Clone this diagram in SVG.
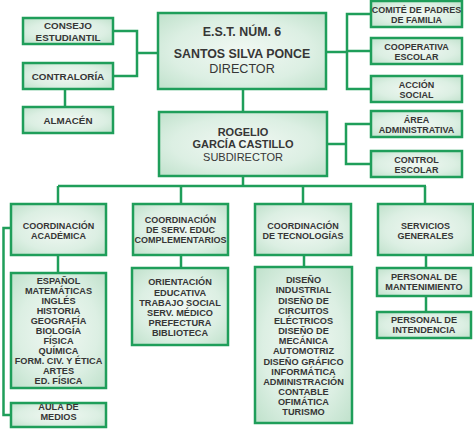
<svg xmlns="http://www.w3.org/2000/svg" width="474" height="429" viewBox="0 0 474 429">
<defs>
<radialGradient id="g" cx="0.5" cy="0.5" r="0.7">
<stop offset="0" stop-color="#f1f8f3"/>
<stop offset="0.6" stop-color="#dcefe3"/>
<stop offset="1" stop-color="#bfe1cb"/>
</radialGradient>
<style>
.b{fill:url(#g);stroke:#1f9e5a;stroke-width:2.5}
.c{fill:none;stroke:#1f9e5a;stroke-width:2.5}
text{font-family:"Liberation Sans",Arial,sans-serif;fill:#363636;text-anchor:middle;font-weight:bold}
.s{font-size:9.8px}
.r{font-size:9px}
.l{font-size:9.2px}
.d{font-size:12.4px}
.dn{font-size:12.6px;font-weight:normal}
.u{font-size:11px}
.un{font-size:11px;font-weight:normal}
</style>
</defs>
<rect width="474" height="429" fill="#ffffff"/>
<g id="connectors">
<polyline class="c" points="113,31 137,31 137,76 113,76"/>
<line class="c" x1="137" y1="53" x2="158" y2="53"/>
<line class="c" x1="65" y1="89" x2="65" y2="107"/>
<line class="c" x1="326" y1="52" x2="347" y2="52"/>
<polyline class="c" points="371,14 347,14 347,89 371,89"/>
<line class="c" x1="347" y1="51" x2="371" y2="51"/>
<line class="c" x1="327" y1="144" x2="346" y2="144"/>
<polyline class="c" points="371,124 346,124 346,164 371,164"/>
<line class="c" x1="243" y1="89" x2="243" y2="112"/>
<line class="c" x1="243" y1="176" x2="243" y2="186"/>
<line class="c" x1="58" y1="186" x2="426" y2="186"/>
<line class="c" x1="58" y1="186" x2="58" y2="204"/>
<line class="c" x1="181" y1="186" x2="181" y2="204"/>
<line class="c" x1="303" y1="186" x2="303" y2="204"/>
<line class="c" x1="425" y1="186" x2="425" y2="204"/>
<line class="c" x1="58" y1="255" x2="58" y2="273"/>
<line class="c" x1="181" y1="255" x2="181" y2="268"/>
<line class="c" x1="304" y1="255" x2="304" y2="267"/>
<line class="c" x1="426" y1="255" x2="426" y2="268"/>
<line class="c" x1="426" y1="296" x2="426" y2="312"/>
<polyline class="c" points="11,228 3.5,228 3.5,415 11,415"/>
</g>
<g id="consejo"><rect class="b" x="23" y="18" width="90" height="26"/><text class="s" x="68" y="28.5">CONSEJO</text><text class="s" x="68" y="40.5">ESTUDIANTIL</text></g>
<g id="contraloria"><rect class="b" x="23" y="63" width="90" height="26"/><text class="s" x="68" y="80">CONTRALORÍA</text></g>
<g id="almacen"><rect class="b" x="23" y="107" width="90" height="26"/><text class="s" x="68" y="123.5">ALMACÉN</text></g>
<g id="director"><rect class="b" x="158" y="13" width="168" height="76"/><text class="d" x="242" y="35.5">E.S.T. NÚM. 6</text><text class="d" x="242" y="57.5">SANTOS SILVA PONCE</text><text class="dn" x="242" y="72.5">DIRECTOR</text></g>
<g id="subdirector"><rect class="b" x="159" y="112" width="168" height="64"/><text class="u" x="243" y="136">ROGELIO</text><text class="u" x="243" y="148">GARCÍA CASTILLO</text><text class="un" x="243" y="161">SUBDIRECTOR</text></g>
<g id="comite"><rect class="b" x="371" y="1" width="91" height="26"/><text class="r" x="416.5" y="13.2">COMITÉ DE PADRES</text><text class="r" x="416.5" y="23.2">DE FAMILIA</text></g>
<g id="cooperativa"><rect class="b" x="371" y="38" width="91" height="26"/><text class="r" x="416.5" y="49.5">COOPERATIVA</text><text class="r" x="416.5" y="59.5">ESCOLAR</text></g>
<g id="accion"><rect class="b" x="371" y="76" width="91" height="26"/><text class="r" x="416.5" y="88">ACCIÓN</text><text class="r" x="416.5" y="98">SOCIAL</text></g>
<g id="area"><rect class="b" x="371" y="111" width="91" height="26"/><text class="r" x="416.5" y="122.5">ÁREA</text><text class="r" x="416.5" y="132.5">ADMINISTRATIVA</text></g>
<g id="control"><rect class="b" x="371" y="151" width="91" height="26"/><text class="r" x="416.5" y="162.5">CONTROL</text><text class="r" x="416.5" y="172.5">ESCOLAR</text></g>
<g id="coord-academica"><rect class="b" x="11" y="204" width="95" height="51"/><text class="r" x="58.5" y="229.3">COORDINACIÓN</text><text class="r" x="58.5" y="239.3">ACADÉMICA</text></g>
<g id="coord-serv"><rect class="b" x="133" y="204" width="95" height="51"/><text class="r" x="180.5" y="223.3">COORDINACIÓN</text><text class="r" x="180.5" y="233.3">DE SERV. EDUC</text><text class="r" x="180.5" y="243.3">COMPLEMENTARIOS</text></g>
<g id="coord-tec"><rect class="b" x="255" y="204" width="96" height="51"/><text class="r" x="303" y="229.3">COORDINACIÓN</text><text class="r" x="303" y="239.3">DE TECNOLOGÍAS</text></g>
<g id="servicios"><rect class="b" x="378" y="204" width="95" height="51"/><text class="r" x="425.5" y="229.3">SERVICIOS</text><text class="r" x="425.5" y="239.3">GENERALES</text></g>
<g id="materias"><rect class="b" x="11" y="273" width="95" height="115"/>
<text class="l" x="58.5" y="284.3">ESPAÑOL</text><text class="l" x="58.5" y="294.3">MATEMÁTICAS</text><text class="l" x="58.5" y="304.3">INGLÉS</text><text class="l" x="58.5" y="314.3">HISTORIA</text><text class="l" x="58.5" y="324.3">GEOGRAFÍA</text><text class="l" x="58.5" y="334.3">BIOLOGÍA</text><text class="l" x="58.5" y="344.3">FÍSICA</text><text class="l" x="58.5" y="354.3">QUÍMICA</text><text class="l" x="58.5" y="364.3">FORM. CIV. Y ÉTICA</text><text class="l" x="58.5" y="374.3">ARTES</text><text class="l" x="58.5" y="384.3">ED. FÍSICA</text></g>
<g id="aula"><rect class="b" x="11" y="403" width="95" height="24"/><text class="l" x="58.5" y="410">AULA DE</text><text class="l" x="58.5" y="419.5">MEDIOS</text></g>
<g id="orientacion"><rect class="b" x="132" y="268" width="96" height="77"/>
<text class="l" x="180" y="285.3">ORIENTACIÓN</text><text class="l" x="180" y="295.5">EDUCATIVA</text><text class="l" x="180" y="305.7">TRABAJO SOCIAL</text><text class="l" x="180" y="315.9">SERV. MÉDICO</text><text class="l" x="180" y="326.1">PREFECTURA</text><text class="l" x="180" y="336.3">BIBLIOTECA</text></g>
<g id="tecnologias"><rect class="b" x="255" y="267" width="97" height="156"/>
<text class="l" x="303.5" y="283.3">DISEÑO</text><text class="l" x="303.5" y="293.45">INDUSTRIAL</text><text class="l" x="303.5" y="303.6">DISEÑO DE</text><text class="l" x="303.5" y="313.75">CIRCUITOS</text><text class="l" x="303.5" y="323.9">ELÉCTRICOS</text><text class="l" x="303.5" y="334.05">DISEÑO DE</text><text class="l" x="303.5" y="344.2">MECÁNICA</text><text class="l" x="303.5" y="354.35">AUTOMOTRIZ</text><text class="l" x="303.5" y="364.5">DISEÑO GRÁFICO</text><text class="l" x="303.5" y="374.65">INFORMÁTICA</text><text class="l" x="303.5" y="384.8">ADMINISTRACIÓN</text><text class="l" x="303.5" y="394.95">CONTABLE</text><text class="l" x="303.5" y="405.1">OFIMÁTICA</text><text class="l" x="303.5" y="415.25">TURISMO</text></g>
<g id="mantenimiento"><rect class="b" x="377" y="268" width="94" height="28"/><text class="l" x="424" y="280.3">PERSONAL DE</text><text class="l" x="424" y="290.3">MANTENIMIENTO</text></g>
<g id="intendencia"><rect class="b" x="377" y="312" width="94" height="26"/><text class="l" x="424" y="323.3">PERSONAL DE</text><text class="l" x="424" y="333.3">INTENDENCIA</text></g>
</svg>
